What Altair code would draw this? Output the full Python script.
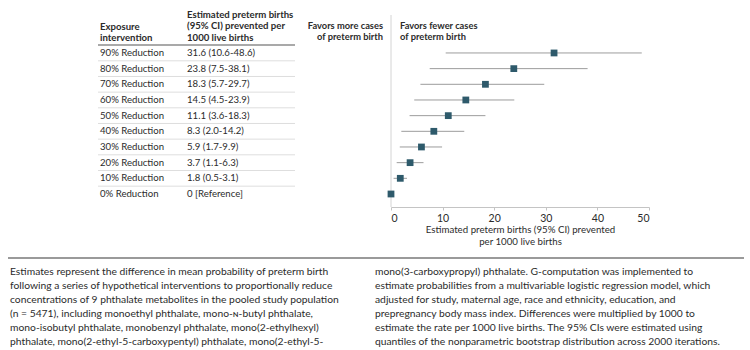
import altair as alt
import pandas as pd

# ---------------- data ----------------
interventions = ["90% Reduction", "80% Reduction", "70% Reduction", "60% Reduction",
                 "50% Reduction", "40% Reduction", "30% Reduction", "20% Reduction",
                 "10% Reduction", "0% Reduction"]
estimates = [31.6, 23.8, 18.3, 14.5, 11.1, 8.3, 5.9, 3.7, 1.8, 0.0]
ci_low = [10.6, 7.5, 5.7, 4.5, 3.6, 2.0, 1.7, 1.1, 0.5, None]
ci_high = [48.6, 38.1, 29.7, 23.9, 18.3, 14.2, 9.9, 6.3, 3.1, None]
ci_text = ["31.6 (10.6-48.6)", "23.8 (7.5-38.1)", "18.3 (5.7-29.7)", "14.5 (4.5-23.9)",
           "11.1 (3.6-18.3)", "8.3 (2.0-14.2)", "5.9 (1.7-9.9)", "3.7 (1.1-6.3)",
           "1.8 (0.5-3.1)", "0 [Reference]"]
x_ticks = [0, 10, 20, 30, 40, 50]

header_col1 = ["Exposure", "intervention"]
header_col2 = ["Estimated preterm births", "(95% CI) prevented per", "1000 live births"]
favors_more = ["Favors more cases", "of preterm birth"]
favors_fewer = ["Favors fewer cases", "of preterm birth"]
axis_title = ["Estimated preterm births (95% CI) prevented", "per 1000 live births"]

footnote_left = [
    "Estimates represent the difference in mean probability of preterm birth",
    "following a series of hypothetical interventions to proportionally reduce",
    "concentrations of 9 phthalate metabolites in the pooled study population",
    "(n = 5471), including monoethyl phthalate, mono-\u0274-butyl phthalate,",
    "mono-isobutyl phthalate, monobenzyl phthalate, mono(2-ethylhexyl)",
    "phthalate, mono(2-ethyl-5-carboxypentyl) phthalate, mono(2-ethyl-5-",
]
footnote_right = [
    "mono(3-carboxypropyl) phthalate. G-computation was implemented to",
    "estimate probabilities from a multivariable logistic regression model, which",
    "adjusted for study, maternal age, race and ethnicity, education, and",
    "prepregnancy body mass index. Differences were multiplied by 1000 to",
    "estimate the rate per 1000 live births. The 95% CIs were estimated using",
    "quantiles of the nonparametric bootstrap distribution across 2000 iterations.",
]

# ---------------- tables ----------------
n = len(interventions)
df = pd.DataFrame({
    "intervention": interventions,
    "estimate": estimates,
    "low": ci_low,
    "high": ci_high,
    "ci": ci_text,
    "row": [n - 1 - i for i in range(n)],
})
ci_df = df.dropna(subset=["low"])
sep_df = pd.DataFrame({"row": [r + 0.5 for r in range(n - 1)]})
one = pd.DataFrame({"zero": [0]})

FONT = "Lato, sans-serif"
TXT = "#2b2b2b"

xscale = alt.Scale(domain=[0, 50], nice=False, zero=False)
yscale = alt.Scale(domain=[-0.83, 12.38], nice=False, zero=False)

ci = alt.Chart(ci_df).mark_rule(color="#9c9c9c", strokeWidth=1).encode(
    x=alt.X("low:Q", scale=xscale, axis=alt.Axis(
        values=x_ticks, format="d", grid=False,
        domainColor="#c4c4c4", tickColor="#c4c4c4", tickSize=3,
        labelFont=FONT, labelFontSize=10.5, labelColor=TXT, labelPadding=3,
        title=axis_title, titleFont=FONT, titleFontSize=9.7,
        titleFontWeight="normal", titleColor=TXT, titlePadding=1,
        titleLineHeight=12,
    )),
    x2="high:Q",
    y=alt.Y("row:Q", scale=yscale, axis=None),
)

pts = alt.Chart(df).mark_square(size=46, color="#2e5a6b", opacity=1).encode(
    x="estimate:Q", y="row:Q"
)

zero_line = alt.Chart(one).mark_rule(color="#d4d4d4", strokeWidth=1).encode(
    x="zero:Q", y=alt.value(15), y2=alt.value(207)
)

row_labels = alt.Chart(df).mark_text(
    align="left", baseline="middle", font=FONT, fontSize=9.6, color=TXT
).encode(x=alt.value(-291), y="row:Q", text="intervention:N")

ci_labels = alt.Chart(df).mark_text(
    align="left", baseline="middle", font=FONT, fontSize=9.6, color=TXT
).encode(x=alt.value(-204), y="row:Q", text="ci:N")

seps = alt.Chart(sep_df).mark_rule(color="#dedede", strokeWidth=1).encode(
    x=alt.value(-293), x2=alt.value(-96), y="row:Q"
)

head_line = alt.Chart(one).mark_rule(color="#8c8c8c", strokeWidth=1.5).encode(
    x=alt.value(-293), x2=alt.value(-96), y=alt.value(45)
)


def block(lines, x, y, align="left", weight="bold", size=9.6, lh=11.8):
    layers = []
    for i, line in enumerate(lines):
        layers.append(
            alt.Chart(one).mark_text(
                align=align, baseline="alphabetic", font=FONT,
                fontSize=size, fontWeight=weight, color=TXT,
            ).encode(x=alt.value(x), y=alt.value(y + i * lh), text=alt.value(line))
        )
    return layers


texts = []
texts += block(header_col1, -291, 29.5)
texts += block(header_col2, -204, 17.5)
texts += block(favors_more, -8, 28.5, align="right", size=9.3)
texts += block(favors_fewer, 9, 28.5, size=9.3)
texts += block(footnote_left, -381, 275, weight="normal", size=10.3, lh=13.9)
texts += block(footnote_right, -16, 275, weight="normal", size=10.3, lh=13.9)

foot_line = alt.Chart(one).mark_rule(color="#9a9a9a", strokeWidth=2).encode(
    x=alt.value(-383), x2=alt.value(353), y=alt.value(258)
)

chart = alt.layer(
    ci, zero_line, seps, head_line, pts, row_labels, ci_labels, foot_line, *texts
).properties(
    width=258, height=207,
    autosize=alt.AutoSizeParams(type="none"),
    padding={"left": 391, "top": 0, "right": 101, "bottom": 143},
    background="white",
).configure_view(stroke=None)

chart.save("out.html", embed_options={"renderer": "svg", "actions": False})
